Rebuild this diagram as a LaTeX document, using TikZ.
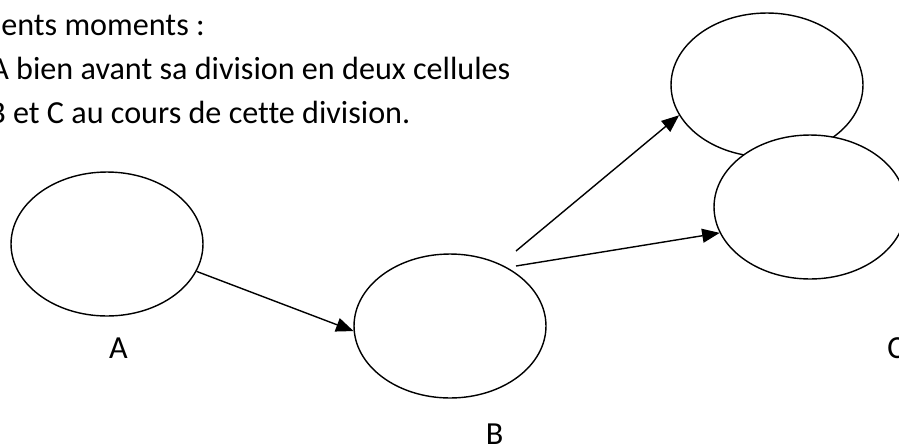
\documentclass[tikz,border=0pt]{standalone}
\usepackage{fontspec}
\setmainfont{Carlito}[Ligatures=NoCommon]
\usetikzlibrary{shapes.geometric,arrows.meta,positioning}

\tikzset{
  cell/.style={draw, ellipse, line width=0.8pt, fill=white, inner sep=0pt,
    minimum width=3.84cm, minimum height=2.88cm},
  link/.style={-{Triangle[length=0.35cm,width=0.28cm]}, line width=0.8pt},
  lbl/.style={anchor=base, inner sep=0pt},
  txt/.style={anchor=base west, inner sep=0pt}
}

\begin{document}
\begin{tikzpicture}[x=0.02cm, y=-0.02cm, font=\fontsize{18.3}{25}\selectfont]
  \useasboundingbox (0,0) rectangle (899,447);
  \clip (0,0) rectangle (899,447);

  % Text above
  \node[txt] (line1) at (1,35) {ents moments :};
  \node[txt] (line2) at (-10,79) {A bien avant sa division en deux cellules};
  \node[txt] (line3) at (-12,123) {B et C au cours de cette division.};

  % Cells
  \node[cell] (cellA) at (107,244) {};
  \node[cell] (cellB) at (450,326) {};
  \node[cell] (cellC1) at (767,85) {};
  \node[cell] (cellC2) at (810,207) {};

  % Labels
  \node[lbl] (labA) at (118.5,358) {A};
  \node[lbl] (labB) at (494.5,444) {B};
  \node[lbl, anchor=base west] (labC) at (887,358) {C};

  % Arrows
  \coordinate (startC1) at (516,251);
  \coordinate (startC2) at (516,266);
  \draw[link] (cellA.-17) -- (cellB.183);
  \draw[link] (startC1) -- (cellC1.199);
  \draw[link] (startC2) -- (cellC2.196);
\end{tikzpicture}
\end{document}
